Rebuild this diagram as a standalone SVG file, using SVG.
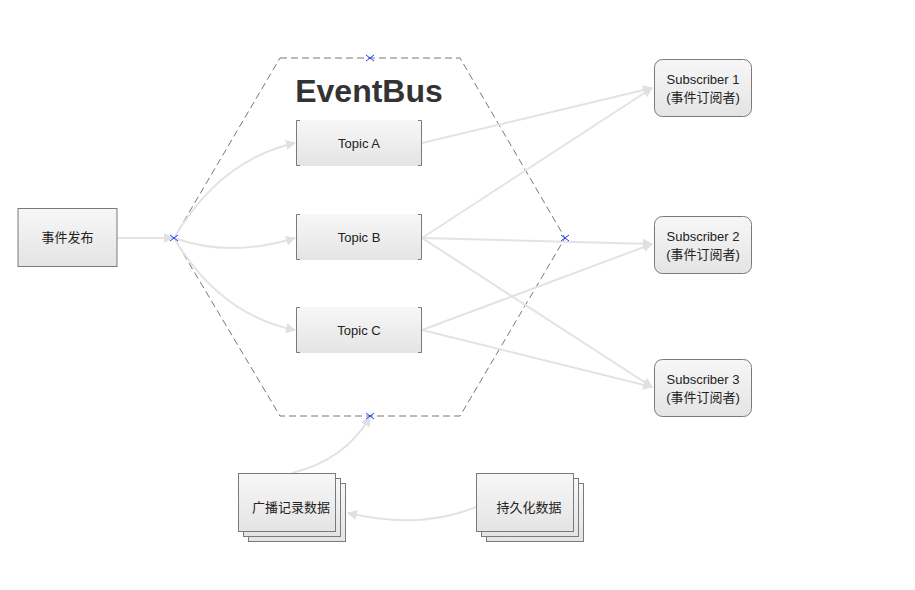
<svg xmlns="http://www.w3.org/2000/svg" width="915" height="590" viewBox="0 0 915 590">
<defs>
<linearGradient id="g" x1="0" y1="0" x2="0" y2="1"><stop offset="0" stop-color="#f7f7f7"/><stop offset="1" stop-color="#e4e4e4"/></linearGradient>
<marker id="ar" viewBox="0 0 10 10" refX="9" refY="5" markerWidth="10" markerHeight="10" markerUnits="userSpaceOnUse" orient="auto"><path d="M0,0 L10,5 L0,10 Z" fill="#e0e0e0"/></marker>
<style>
.box{fill:url(#g);stroke:#7a7a7a;stroke-width:1}
.tb{fill:url(#g);stroke:none}
.br{fill:none;stroke:#7a7a7a;stroke-width:1}
.t{font-family:"Liberation Sans","Noto Sans CJK SC",sans-serif;font-size:13px;fill:#222;text-anchor:middle}
.c{fill:none;stroke:#e3e3e3;stroke-width:2;marker-end:url(#ar)}
.x{stroke:#1a3cff;stroke-width:1;fill:none}
</style>
</defs>
<rect width="915" height="590" fill="#fff"/>
<g id="eventbus">
<polygon points="280,58 460,58 565,238 460,416 280,416 174,238" fill="none" stroke="#777" stroke-width="1" stroke-dasharray="7,4"/>
<text x="369" y="102" font-family="Liberation Sans,sans-serif" font-size="32" font-weight="bold" fill="#333" text-anchor="middle">EventBus</text>
</g>
<g id="connectors">
<path class="c" d="M117,238 L173,238"/>
<path class="c" d="M174,238 Q220,160 295,143"/>
<path class="c" d="M174,238 Q230,258 295,238"/>
<path class="c" d="M174,238 Q220,315 295,330"/>
<path class="c" d="M422,143 L652,88"/>
<path class="c" d="M422,238 L652,88"/>
<path class="c" d="M422,238 L652,244"/>
<path class="c" d="M422,238 L652,387"/>
<path class="c" d="M422,330 L652,244"/>
<path class="c" d="M422,330 L652,387"/>
<path class="c" d="M292,473 Q345,460 370,417"/>
<path class="c" d="M476,507 Q420,530 348,513"/>
</g>
<g id="markers">
<path class="x" d="M366,55 L374,61 M374,55 L366,61"/>
<path class="x" d="M170,235 L178,241 M178,235 L170,241"/>
<path class="x" d="M561,235 L569,241 M569,235 L561,241"/>
<path class="x" d="M366,413 L374,419 M374,413 L366,419"/>
</g>
<g id="publisher">
<rect class="box" x="18" y="208.5" width="99" height="58"/>
<text class="t" x="67.5" y="242">事件发布</text>
</g>
<g id="topicA">
<rect class="tb" x="296" y="120" width="126" height="46"/>
<path class="br" d="M300,120.5 H296.5 V165.5 H300 M418,120.5 H421.5 V165.5 H418"/>
<text class="t" x="359" y="148">Topic A</text>
</g>
<g id="topicB">
<rect class="tb" x="296" y="214" width="126" height="46"/>
<path class="br" d="M300,214.5 H296.5 V259.5 H300 M418,214.5 H421.5 V259.5 H418"/>
<text class="t" x="359" y="242">Topic B</text>
</g>
<g id="topicC">
<rect class="tb" x="296" y="307" width="126" height="46"/>
<path class="br" d="M300,307.5 H296.5 V352.5 H300 M418,307.5 H421.5 V352.5 H418"/>
<text class="t" x="359" y="335">Topic C</text>
</g>
<g id="sub1">
<rect class="box" x="654.5" y="59.5" width="97" height="57" rx="8"/>
<text class="t" x="703" y="84">Subscriber 1</text>
<text class="t" x="703" y="102">(事件订阅者)</text>
</g>
<g id="sub2">
<rect class="box" x="654.5" y="216.5" width="97" height="57" rx="8"/>
<text class="t" x="703" y="241">Subscriber 2</text>
<text class="t" x="703" y="259">(事件订阅者)</text>
</g>
<g id="sub3">
<rect class="box" x="654.5" y="359.5" width="97" height="57" rx="8"/>
<text class="t" x="703" y="384">Subscriber 3</text>
<text class="t" x="703" y="402">(事件订阅者)</text>
</g>
<g id="broadcast">
<rect class="box" x="248.5" y="483.5" width="97" height="58"/>
<rect class="box" x="243.5" y="478.5" width="97" height="58"/>
<rect class="box" x="238.5" y="473.5" width="97" height="58"/>
<text class="t" x="291" y="512">广播记录数据</text>
</g>
<g id="persist">
<rect class="box" x="486.5" y="483.5" width="97" height="58"/>
<rect class="box" x="481.5" y="478.5" width="97" height="58"/>
<rect class="box" x="476.5" y="473.5" width="97" height="58"/>
<text class="t" x="529" y="512">持久化数据</text>
</g>
</svg>
